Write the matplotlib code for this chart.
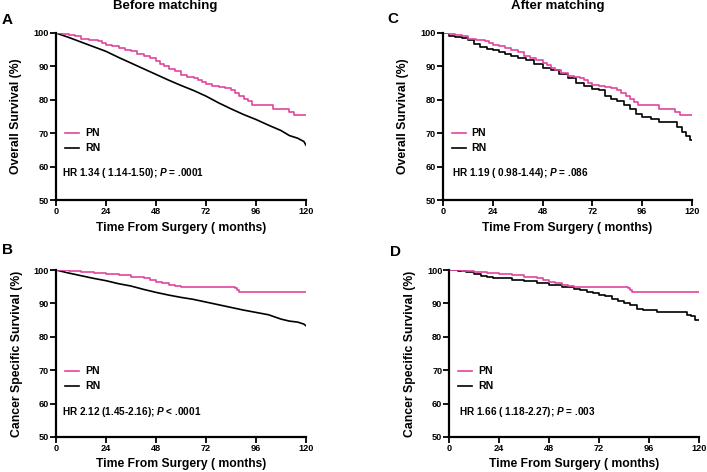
import matplotlib
matplotlib.use("Agg")
import matplotlib.pyplot as plt

plt.rcParams['font.family'] = ['Liberation Sans', 'DejaVu Sans']
plt.rcParams['font.weight'] = 'bold'
plt.rcParams['mathtext.fontset'] = 'custom'
plt.rcParams['mathtext.it'] = 'Liberation Sans:italic:bold'

# ---- data (months, survival %) ----
a_pn_t = [0, 3, 6, 9, 12, 16, 20, 22, 24, 27, 30, 33, 36, 39, 42, 45, 48, 50, 52, 54, 57, 60, 63, 66, 68, 70, 72, 75, 78, 81, 84, 86, 88, 90, 92, 94, 96, 100, 104, 108, 110, 112, 114, 120]
a_pn_s = [100, 99.8, 99.5, 99.0, 98.3, 98.0, 97.7, 97.0, 96.4, 96.0, 95.6, 95.0, 94.5, 93.8, 93.0, 92.5, 91.5, 90.8, 90.0, 89.3, 88.5, 87.3, 86.8, 86.5, 85.8, 85.2, 84.6, 84.2, 83.8, 83.5, 82.8, 82.0, 81.0, 80.3, 79.5, 78.5, 78.3, 78.3, 77.3, 77.2, 77.2, 76.3, 75.5, 75.5]
a_rn_t = [0, 6, 12, 18, 24, 30, 36, 42, 48, 54, 60, 66, 72, 78, 84, 90, 96, 102, 108, 112, 116, 119, 120]
a_rn_s = [100, 98.7, 97.3, 95.9, 94.5, 92.7, 91.0, 89.3, 87.6, 85.9, 84.3, 82.8, 81.1, 79.1, 77.3, 75.6, 74.1, 72.4, 70.8, 69.3, 68.5, 67.5, 66.4]

c_pn_t = [0, 3, 6, 9, 12, 16, 20, 22, 24, 27, 30, 33, 36, 39, 42, 45, 48, 50, 52, 54, 57, 60, 63, 66, 68, 70, 72, 75, 78, 81, 84, 86, 88, 90, 92, 94, 96, 100, 104, 108, 110, 112, 114, 120]
c_pn_s = [100, 99.8, 99.5, 99.0, 98.3, 98.0, 97.7, 97.0, 96.4, 96.0, 95.4, 94.8, 94.2, 93.2, 92.5, 91.8, 91.0, 90.5, 89.6, 89.0, 88.0, 87.0, 86.8, 86.5, 85.8, 85.0, 84.5, 84.0, 83.8, 83.5, 82.8, 82.0, 81.0, 80.2, 79.3, 78.3, 78.3, 78.3, 77.3, 77.2, 77.2, 76.3, 75.5, 75.5]
c_rn_t = [0, 3, 6, 9, 12, 15, 18, 21, 24, 27, 30, 33, 36, 40, 44, 48, 52, 56, 60, 64, 68, 72, 75, 78, 81, 84, 87, 90, 93, 96, 100, 104, 108, 111, 113, 115, 117, 119, 120]
c_rn_s = [100, 99.2, 98.8, 98.6, 97.8, 96.7, 95.9, 95.3, 95.0, 94.4, 93.6, 93.0, 92.6, 91.8, 90.8, 89.6, 89.0, 87.6, 86.6, 85.0, 84.0, 83.3, 82.8, 81.2, 80.2, 79.5, 78.5, 77.3, 75.8, 74.8, 74.2, 73.5, 73.5, 73.4, 72.0, 70.3, 69.2, 68.0, 68.0]

b_pn_t = [0, 6, 12, 18, 24, 30, 36, 40, 42, 45, 48, 51, 54, 57, 60, 66, 72, 78, 84, 86, 87, 88, 120]
b_pn_s = [100, 99.8, 99.3, 99.0, 98.8, 98.4, 98.0, 97.8, 97.5, 96.9, 96.4, 96.0, 95.5, 95.2, 95.0, 95.0, 95.0, 94.9, 94.8, 94.5, 94.0, 93.5, 93.5]
b_rn_t = [0, 6, 12, 18, 24, 30, 36, 42, 48, 54, 60, 66, 72, 78, 84, 90, 96, 102, 108, 112, 116, 119, 120]
b_rn_s = [100, 99.1, 98.3, 97.5, 96.8, 95.9, 95.2, 94.2, 93.3, 92.5, 91.8, 91.2, 90.4, 89.6, 88.8, 88.0, 87.3, 86.6, 85.3, 84.7, 84.4, 83.8, 83.3]

d_pn_t = [0, 6, 12, 18, 24, 30, 36, 40, 42, 45, 48, 51, 54, 57, 60, 66, 72, 78, 84, 86, 87, 88, 120]
d_pn_s = [100, 99.8, 99.3, 99.0, 98.8, 98.4, 98.0, 97.8, 97.5, 96.9, 96.4, 96.0, 95.5, 95.2, 95.0, 95.0, 95.0, 94.9, 94.8, 94.5, 94.0, 93.5, 93.5]
d_rn_t = [0, 4, 8, 12, 15, 18, 21, 24, 30, 36, 42, 48, 54, 60, 63, 66, 69, 72, 75, 78, 81, 84, 87, 90, 93, 96, 100, 106, 112, 114, 116, 118, 120]
d_rn_s = [100, 99.7, 99.4, 98.8, 98.2, 97.9, 97.7, 97.5, 97.1, 96.8, 96.2, 95.5, 95.0, 94.4, 94.0, 93.5, 93.0, 92.4, 92.2, 91.3, 90.6, 90.2, 89.4, 88.4, 88.0, 88.0, 87.5, 87.5, 87.3, 86.4, 86.3, 85.0, 85.0]

panels = [
    dict(rect=[56/707, 1-200/472, 250/707, 167/472], pn=(a_pn_t, a_pn_s), rn=(a_rn_t, a_rn_s), rn_style='default',
         ylabel='Overall Survival (%)', hr='HR 1.34 ( 1.14-1.50); ', p=' = .0001', hrx=2.9, hry=58.0,
         legx=4.3, legy=(70.0, 65.5), ylx=-34),
    dict(rect=[443/707, 1-200/472, 249/707, 167/472], pn=(c_pn_t, c_pn_s), rn=(c_rn_t, c_rn_s), rn_style='steps-post',
         ylabel='Overall Survival (%)', hr='HR 1.19 ( 0.98-1.44); ', p=' = .086', hrx=4.3, hry=58.0,
         legx=4.3, legy=(70.0, 65.5), ylx=-34),
    dict(rect=[56/707, 1-437/472, 250/707, 167/472], pn=(b_pn_t, b_pn_s), rn=(b_rn_t, b_rn_s), rn_style='default',
         ylabel='Cancer Specific Survival (%)', hr='HR 2.12 (1.45-2.16); ', p=' < .0001', hrx=3.0, hry=57.5,
         legx=4.3, legy=(69.7, 65.2), ylx=-33),
    dict(rect=[449.3/707, 1-437/472, 249.7/707, 167/472], pn=(d_pn_t, d_pn_s), rn=(d_rn_t, d_rn_s), rn_style='steps-post',
         ylabel='Cancer Specific Survival (%)', hr='HR 1.66 ( 1.18-2.27); ', p=' = .003', hrx=4.8, hry=57.5,
         legx=4.3, legy=(69.7, 65.2), ylx=-33),
]

pink = '#E2449E'
x_ticks = [0, 24, 48, 72, 96, 120]
y_ticks = [50, 60, 70, 80, 90, 100]

fig = plt.figure(figsize=(7.07, 4.72), dpi=100)

for pnl in panels:
    ax = fig.add_axes(pnl['rect'])
    ax.plot(pnl['rn'][0], pnl['rn'][1], color='black', lw=1.2, drawstyle=pnl['rn_style'])
    ax.plot(pnl['pn'][0], pnl['pn'][1], color=pink, lw=1.2, drawstyle='steps-post')
    ax.set_xlim(0, 120)
    ax.set_ylim(50, 100)
    ax.set_xticks(x_ticks)
    ax.set_yticks(y_ticks)
    for s in ['top', 'right']:
        ax.spines[s].set_visible(False)
    for s in ['left', 'bottom']:
        ax.spines[s].set_linewidth(1.6)
    ax.tick_params(direction='out', length=4, width=1.3, labelsize=6.6, pad=1)
    for lab in ax.get_xticklabels() + ax.get_yticklabels():
        lab.set_fontweight('bold')
    ax.set_xlabel('Time From Surgery ( months)', fontsize=8.7, fontweight='bold', labelpad=4)
    ax.set_ylabel(pnl['ylabel'], fontsize=8.8, fontweight='bold')
    ax.yaxis.set_label_coords(pnl['ylx'] / (pnl['rect'][2] * 707), 0.5)
    # legend
    lx = pnl['legx']
    ax.plot([lx, lx + 6.7], [pnl['legy'][0]] * 2, color=pink, lw=1.2, clip_on=False)
    ax.plot([lx, lx + 6.7], [pnl['legy'][1]] * 2, color='black', lw=1.2, clip_on=False)
    ax.text(lx + 9.5, pnl['legy'][0], 'PN', fontsize=7.6, fontweight='bold', va='center')
    ax.text(lx + 9.5, pnl['legy'][1], 'RN', fontsize=7.6, fontweight='bold', va='center')
    ax.text(pnl['hrx'], pnl['hry'], pnl['hr'] + r'$\it{P}$' + pnl['p'], fontsize=7.2,
            fontweight='bold', va='center')

fig.text(165/707, 1-6/472, 'Before matching', fontsize=9.5, fontweight='bold', ha='center', va='center')
fig.text(558/707, 1-6/472, 'After matching', fontsize=9.5, fontweight='bold', ha='center', va='center')
fig.text(2/707, 1-20/472, 'A', fontsize=11, fontweight='bold', ha='left', va='center')
fig.text(387/707, 1-19/472, 'C', fontsize=11, fontweight='bold', ha='left', va='center')
fig.text(2/707, 1-250/472, 'B', fontsize=11, fontweight='bold', ha='left', va='center')
fig.text(390/707, 1-252/472, 'D', fontsize=11, fontweight='bold', ha='left', va='center')

fig.savefig('out.png', dpi=100)
